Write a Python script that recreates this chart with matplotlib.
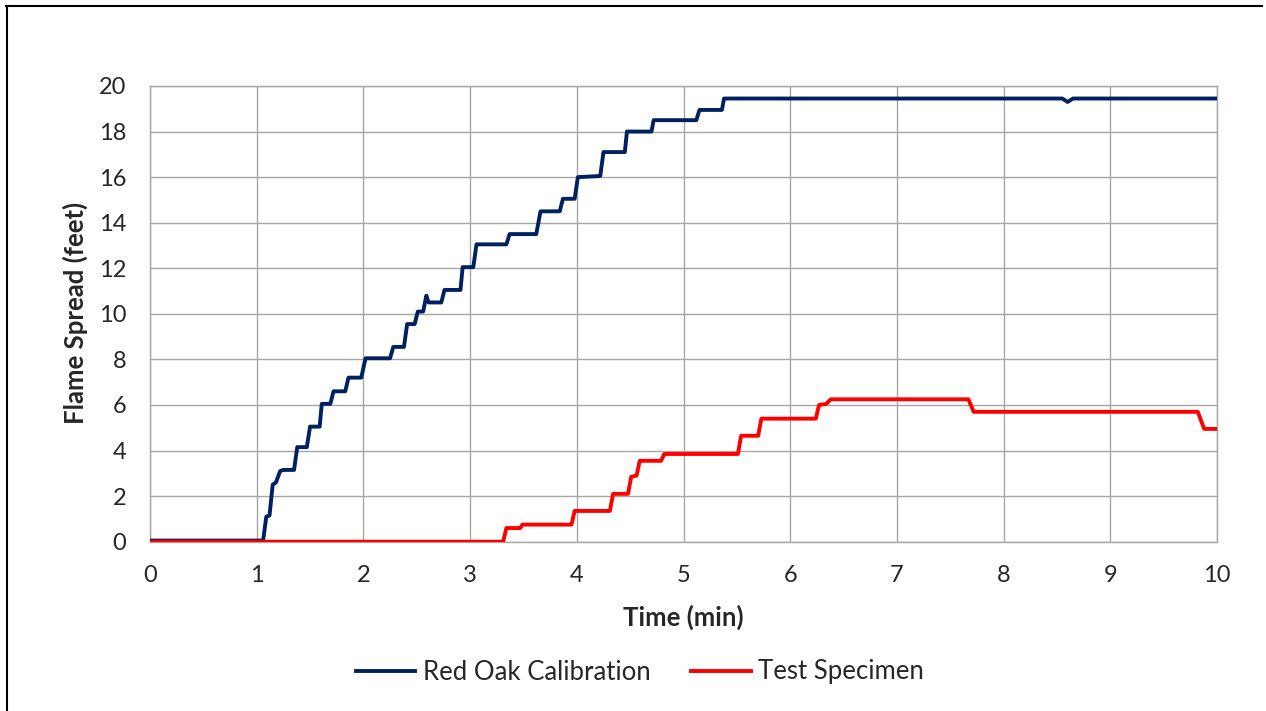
import matplotlib
matplotlib.use("Agg")
import matplotlib.pyplot as plt
from matplotlib.lines import Line2D

plt.rcParams['font.family'] = ['Lato', 'DejaVu Sans']

# Red Oak Calibration (breakpoints of stepped curve): time (min), flame spread (ft)
oak_t = [0.0, 1.06, 1.09, 1.12, 1.15, 1.18, 1.22, 1.25, 1.35, 1.38, 1.47, 1.50, 1.59, 1.61,
         1.69, 1.72, 1.83, 1.86, 1.98, 2.02, 2.25, 2.28, 2.38, 2.41, 2.48, 2.51, 2.56, 2.59,
         2.61, 2.73, 2.76, 2.91, 2.93, 3.03, 3.06, 3.34, 3.37, 3.62, 3.66, 3.84, 3.87, 3.98,
         4.01, 4.22, 4.25, 4.45, 4.47, 4.70, 4.72, 5.12, 5.15, 5.36, 5.38, 6.5, 7.5, 8.55,
         8.6, 8.65, 10.0]
oak_y = [0.05, 0.05, 1.1, 1.15, 2.5, 2.6, 3.1, 3.15, 3.15, 4.15, 4.15, 5.05, 5.05, 6.05,
         6.05, 6.6, 6.6, 7.2, 7.2, 8.05, 8.05, 8.55, 8.55, 9.55, 9.55, 10.1, 10.1, 10.8,
         10.5, 10.5, 11.05, 11.05, 12.05, 12.05, 13.05, 13.05, 13.5, 13.5, 14.5, 14.5, 15.05, 15.05,
         16.0, 16.05, 17.1, 17.1, 18.0, 18.0, 18.5, 18.5, 18.95, 18.95, 19.45, 19.45, 19.45, 19.45,
         19.3, 19.45, 19.45]

# Test Specimen
spec_t = [0.0, 3.31, 3.34, 3.47, 3.49, 3.95, 3.98, 4.31, 4.34, 4.48, 4.51, 4.56, 4.59, 4.79,
          4.82, 5.51, 5.54, 5.70, 5.73, 6.24, 6.27, 6.34, 6.38, 7.67, 7.72, 9.82, 9.88, 10.0]
spec_y = [0.0, 0.0, 0.6, 0.6, 0.75, 0.75, 1.35, 1.35, 2.1, 2.1, 2.85, 2.9, 3.55, 3.55,
          3.85, 3.85, 4.65, 4.65, 5.4, 5.4, 6.0, 6.05, 6.25, 6.25, 5.7, 5.7, 4.95, 4.95]

x_ticks = list(range(0, 11))
y_ticks = list(range(0, 21, 2))

W, H = 1266, 711
fig = plt.figure(figsize=(W / 100, H / 100), dpi=100)
ax_l, ax_r, ax_b, ax_t = 150, 1217, 541.7, 86
ax = fig.add_axes([ax_l / W, 1 - ax_b / H, (ax_r - ax_l) / W, (ax_b - ax_t) / H])

grid_c = '#a6a6a6'
txt_c = '#262626'
ax.plot(oak_t, oak_y, color='#002060', lw=2.8, label='Red Oak Calibration', solid_joinstyle='round', zorder=3)
ax.plot(spec_t, spec_y, color='#ff0000', lw=2.8, label='Test Specimen', solid_joinstyle='round', zorder=3)

ax.set_xlim(0, 10)
ax.set_ylim(0, 20)
ax.set_xticks(x_ticks)
ax.set_yticks(y_ticks)
ax.grid(True, color=grid_c, lw=1.0)
ax.set_axisbelow(True)
for s in ax.spines.values():
    s.set_color(grid_c)
    s.set_linewidth(1.0)
ax.tick_params(length=0, labelsize=17, colors=txt_c)
ax.tick_params(axis='y', pad=17)
ax.tick_params(axis='x', pad=17)

ax.set_xlabel('Time (min)', fontsize=18.5, fontweight='bold', color=txt_c, va='center')
ax.set_ylabel('Flame Spread (feet)', fontsize=18.5, fontweight='bold', color=txt_c, va='center')
ax.xaxis.set_label_coords((683.5 - ax_l) / (ax_r - ax_l), (ax_b - 617) / (ax_b - ax_t))
ax.yaxis.set_label_coords((75 - ax_l) / (ax_r - ax_l), (ax_b - 313) / (ax_b - ax_t))

fig.legend(loc='center', bbox_to_anchor=(640 / W, 1 - 672 / H), ncol=2, frameon=False,
           fontsize=18.5, handlelength=2.3, handletextpad=0.3, columnspacing=1.6,
           labelcolor=txt_c)

# outer border (top and left only, as in screenshot)
fig.add_artist(Line2D([6 / W, 1262 / W], [1 - 6 / H, 1 - 6 / H], color='black', lw=1.5))
fig.add_artist(Line2D([6.5 / W, 6.5 / W], [0, 1 - 6 / H], color='black', lw=1.5))

fig.savefig('out.png', dpi=100, facecolor='white')
